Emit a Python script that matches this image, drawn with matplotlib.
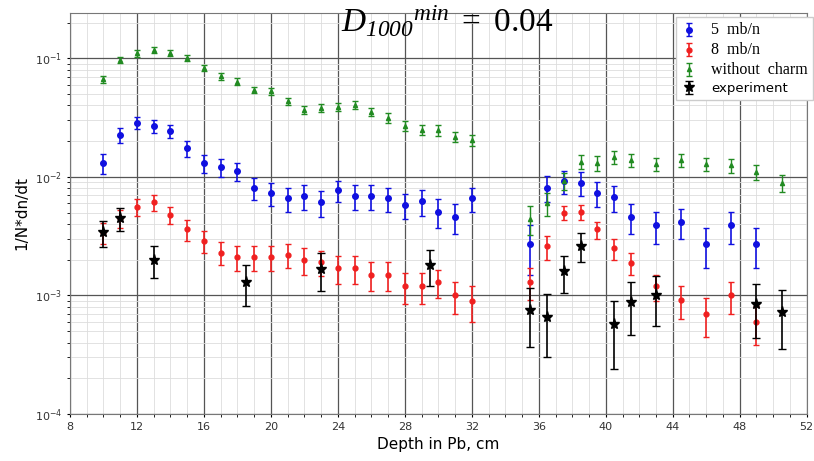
import numpy as np
import matplotlib
matplotlib.use("Agg")
import matplotlib.pyplot as plt
from matplotlib.ticker import MultipleLocator

plt.rcParams['mathtext.fontset'] = 'custom'
plt.rcParams['mathtext.rm'] = 'Liberation Serif:italic'
plt.rcParams['mathtext.it'] = 'Liberation Serif:italic'
plt.rcParams['mathtext.sf'] = 'Liberation Serif'

# simulation points: left block (10..32 cm) and right block
x_left = [10,11,12,13,14,15,16,17,18,19,20,21,22,23,24,25,26,27,28,29,30,31,32]
x_right = [35.5,36.5,37.5,38.5,39.5,40.5,41.5,43,44.5,46,47.5,49]
x_right_g = [35.5,36.5,37.5,38.5,39.5,40.5,41.5,43,44.5,46,47.5,49,50.5]

blue_l = [0.0131,0.0225,0.0286,0.0268,0.0243,0.0174,0.0131,0.012,0.0112,0.0081,0.0073,0.0066,
          0.0069,0.0061,0.0077,0.0069,0.0069,0.0066,0.0058,0.0062,0.0051,0.0046,0.0066]
blue_l_err = [0.0025,0.0032,0.0035,0.0033,0.0031,0.0026,0.0023,0.0021,0.002,0.0017,0.0016,0.0015,
              0.0016,0.0015,0.0016,0.0016,0.0016,0.0015,0.0014,0.0015,0.0014,0.0013,0.0015]
blue_r = [0.0027,0.0081,0.0092,0.0089,0.0073,0.0067,0.0046,0.0039,0.0042,0.0027,0.0039,0.0027]
blue_r_err = [0.0012,0.002,0.002,0.002,0.0017,0.0016,0.0013,0.0012,0.0012,0.001,0.0012,0.001]

red_l = [0.0034,0.0045,0.0056,0.0061,0.0048,0.0036,0.0029,0.0023,0.0021,0.0021,0.0021,0.0022,
         0.002,0.0019,0.0017,0.0017,0.0015,0.0015,0.0012,0.0012,0.0013,0.001,0.0009]
red_l_err = [0.0007,0.0008,0.0009,0.0009,0.0008,0.0007,0.0006,0.0005,0.0005,0.0005,0.0005,0.0005,
             0.0005,0.00045,0.00045,0.00045,0.0004,0.0004,0.00035,0.00035,0.00035,0.0003,0.0003]
red_r = [0.00131,0.0026,0.005,0.00506,0.0036,0.0025,0.00189,0.00119,0.00091,0.0007,0.001,0.0006]
red_r_err = [0.0004,0.0006,0.0007,0.0007,0.0006,0.0005,0.0004,0.0003,0.00028,0.00025,0.0003,0.00022]

green_l = [0.0665,0.0967,0.11,0.118,0.111,0.1,0.0834,0.0707,0.0636,0.054,0.0526,0.0437,
           0.0366,0.0382,0.039,0.0403,0.0354,0.0315,0.027,0.025,0.0248,0.0218,0.0204]
green_l_err = [0.005,0.006,0.007,0.007,0.006,0.006,0.005,0.0045,0.004,0.0035,0.0035,0.003,
               0.003,0.003,0.003,0.003,0.003,0.0028,0.0025,0.0025,0.0025,0.0023,0.0022]
green_r = [0.00445,0.006,0.0092,0.0134,0.0131,0.0147,0.0138,0.0128,0.0138,0.0128,0.0125,0.011,0.0089]
green_r_err = [0.0012,0.0013,0.0015,0.0018,0.0018,0.0019,0.0018,0.0017,0.0018,0.0017,0.0017,0.0016,0.0014]

exp_x = [10,11,13,18.5,23,29.5,35.5,36.5,37.5,38.5,40.5,41.5,43,49,50.5]
exp_y = [0.00343,0.0045,0.002,0.00131,0.00168,0.0018,0.00076,0.00066,0.0016,0.00263,
         0.00057,0.00088,0.001,0.00084,0.00073]
exp_err = [0.00085,0.001,0.0006,0.0005,0.0006,0.0006,0.00039,0.00036,0.00056,0.00073,
           0.00033,0.00042,0.00045,0.0004,0.00038]

fig = plt.figure(figsize=(8.14,4.61), dpi=100)
ax = fig.add_axes([0.086, 0.102, 0.905, 0.870])

ax.errorbar(x_left + x_right, blue_l + blue_r, yerr=blue_l_err + blue_r_err, fmt='o',
            color='#1010e0', ms=4, capsize=2, elinewidth=1.2, label='5  mb/n', zorder=3)
ax.errorbar(x_left + x_right, red_l + red_r, yerr=red_l_err + red_r_err, fmt='o',
            color='#f02020', ms=3.5, capsize=2, elinewidth=1.2, label='8  mb/n', zorder=3)
ax.errorbar(x_left + x_right_g, green_l + green_r, yerr=green_l_err + green_r_err, fmt='^',
            color='#228b22', ms=3, capsize=2, elinewidth=1.0, label='without  charm', zorder=3)
ax.errorbar(exp_x, exp_y, yerr=exp_err, fmt='*', color='black', ms=8, capsize=3,
            elinewidth=1.2, label='experiment', zorder=4)

ax.set_yscale('log')
ax.set_xlim(8, 52)
ax.set_ylim(1e-4, 0.2415)
ax.xaxis.set_major_locator(MultipleLocator(4))
ax.xaxis.set_minor_locator(MultipleLocator(1))
ax.grid(which='major', color='#555555', linewidth=0.9)
ax.grid(which='minor', color='#dddddd', linewidth=0.6)
ax.set_axisbelow(True)
ax.tick_params(labelsize=8, labelcolor='#333333', length=2)
for s in ax.spines.values():
    s.set_color('#777777')

ax.set_xlabel('Depth in Pb, cm', fontsize=11)
ax.set_ylabel('1/N*dn/dt', fontsize=11)

fig.text(0.55, 0.953, r'$D_{1000}{}^{min}\mathsf{\ =\ 0.04}$', fontsize=24, ha='center', va='center')

leg = ax.legend(loc='upper left', bbox_to_anchor=(0.822, 0.99), fontsize=9.5, framealpha=1,
                edgecolor='#cccccc', fancybox=False, handlelength=1.2, borderaxespad=0,
                labelspacing=0.3, handletextpad=1.1)
for t in leg.get_texts()[:3]:
    t.set_fontfamily('Liberation Serif')
    t.set_fontsize(11.5)

plt.savefig('out.png', dpi=100)
